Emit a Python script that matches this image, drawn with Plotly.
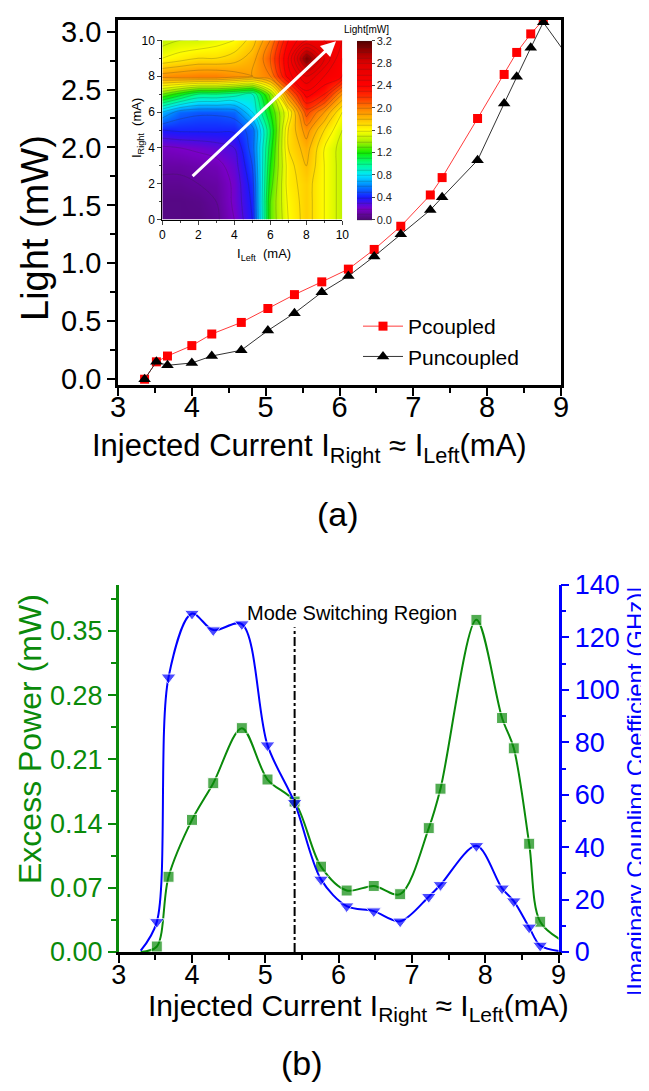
import plotly.graph_objects as go

# ---------------- data: panel (a) ----------------
current_a = [3.36, 3.52, 3.67, 4.00, 4.27, 4.67, 5.03, 5.39, 5.76, 6.12, 6.47,
             6.83, 7.23, 7.39, 7.87, 8.23, 8.40, 8.59, 8.76]
p_coupled = [0.00, 0.15, 0.20, 0.29, 0.39, 0.49, 0.61, 0.73, 0.84, 0.95, 1.12,
             1.32, 1.59, 1.74, 2.25, 2.63, 2.82, 2.98, 3.10]
current_unc = current_a + [9.20]
p_uncoupled = [0.00, 0.15, 0.12, 0.14, 0.20, 0.25, 0.42, 0.57, 0.75, 0.89, 1.06,
               1.25, 1.46, 1.57, 1.89, 2.38, 2.61, 2.86, 3.08, 2.69]

# inset map: Light [mW] vs I_Left (columns) and I_Right (rows)
i_left = [0, 1, 2, 3, 4, 5, 6, 7, 8, 9, 10]
i_right = [0, 1, 2, 3, 4, 5, 6, 7, 8, 9, 10]
light_map = [
    [0.05, 0.05, 0.05, 0.08, 0.20, 0.40, 1.30, 1.60, 1.75, 1.60, 1.45],
    [0.05, 0.05, 0.06, 0.10, 0.22, 0.42, 1.30, 1.62, 1.75, 1.60, 1.45],
    [0.08, 0.08, 0.10, 0.12, 0.22, 0.45, 1.25, 1.65, 1.75, 1.60, 1.45],
    [0.12, 0.12, 0.14, 0.16, 0.25, 0.50, 1.20, 1.65, 1.80, 1.60, 1.45],
    [0.18, 0.20, 0.22, 0.25, 0.30, 0.55, 1.15, 1.70, 1.85, 1.60, 1.45],
    [0.40, 0.42, 0.42, 0.42, 0.42, 0.55, 1.10, 1.70, 1.95, 1.70, 1.50],
    [0.70, 0.55, 0.52, 0.52, 0.55, 0.80, 1.20, 1.60, 2.15, 1.90, 1.60],
    [1.30, 1.15, 1.00, 1.00, 0.95, 0.90, 1.35, 2.00, 2.45, 2.30, 1.90],
    [1.95, 1.98, 2.00, 2.00, 1.95, 1.90, 2.00, 2.45, 2.70, 2.50, 2.40],
    [1.60, 1.65, 1.70, 1.70, 1.75, 1.85, 2.10, 2.50, 3.10, 2.70, 2.40],
    [1.45, 1.50, 1.50, 1.55, 1.60, 1.75, 2.00, 2.40, 2.60, 2.60, 2.50],
]
cbar_ticks = [0.0, 0.4, 0.8, 1.2, 1.6, 2.0, 2.4, 2.8, 3.2]

# ---------------- data: panel (b) ----------------
current_b = [3.30, 3.52, 3.68, 4.00, 4.29, 4.68, 5.03, 5.40, 5.76, 6.11, 6.48,
             6.84, 7.23, 7.39, 7.88, 8.23, 8.39, 8.60, 8.75, 9.10]
excess_power = [0.000, 0.006, 0.082, 0.144, 0.184, 0.244, 0.188, 0.164, 0.093, 0.067, 0.072,
                0.063, 0.135, 0.178, 0.362, 0.255, 0.222, 0.118, 0.033, 0.010]
imag_coupling = [0.5, 11.5, 104.8, 129.1, 122.8, 125.1, 78.9, 56.9, 27.7, 17.5, 15.6,
                 11.7, 21.1, 25.6, 40.5, 24.3, 19.4, 9.4, 2.5, 0.0]
left_ticks = [0.00, 0.07, 0.14, 0.21, 0.28, 0.35]
switch_x = 5.4

W, H = 649, 1091
FONT = "Liberation Sans, Arial, sans-serif"
GREEN = "#0a8a0a"
BLUE = "#0000ff"


def px(x):
    return x / W


def py(y):
    return 1 - y / H


fig = go.Figure()

# panel (a) lines
fig.add_trace(go.Scatter(
    x=current_a, y=p_coupled, name="Pcoupled", mode="lines+markers",
    line=dict(color="#ff3b3b", width=1),
    marker=dict(symbol="square", size=9, color="#ff0000"),
    xaxis="x", yaxis="y", cliponaxis=True))
fig.add_trace(go.Scatter(
    x=current_unc, y=p_uncoupled, name="Puncoupled", mode="lines+markers",
    line=dict(color="#333333", width=1),
    marker=dict(symbol="triangle-up", size=11, color="#000000"),
    xaxis="x", yaxis="y", cliponaxis=True))

# inset contour
colorscale = [
    [0.0, "#4a0a6e"], [0.0625, "#7a00c8"], [0.125, "#1a1aff"], [0.1875, "#0080ff"],
    [0.25, "#00e5ff"], [0.3125, "#00ff90"], [0.375, "#10ee00"], [0.4375, "#a8f000"],
    [0.5, "#ffff00"], [0.5625, "#ffc000"], [0.625, "#ff7f00"], [0.6875, "#ff3000"],
    [0.75, "#ff0000"], [0.875, "#e00000"], [0.9375, "#a00000"], [1.0, "#500000"],
]
fig.add_trace(go.Contour(
    x=i_left, y=i_right, z=light_map, xaxis="x2", yaxis="y2",
    zmin=0, zmax=3.2, colorscale=colorscale,
    contours=dict(start=0, end=3.2, size=0.1, coloring="heatmap"),
    line=dict(width=0.5, color="rgba(40,40,40,0.45)"),
    showlegend=False,
    colorbar=dict(x=px(349.3), xanchor="left", y=py(211.7), yanchor="bottom",
                  len=(211.7 - 32.3) / H, lenmode="fraction", thickness=15,
                  tickvals=cbar_ticks, ticktext=[f"{t:.1f}" for t in cbar_ticks],
                  tickfont=dict(size=11, family=FONT, color="#222"),
                  ticks="outside", ticklen=3, outlinewidth=0, xpad=0, ypad=0)))

# panel (b)
sizes_sq = [0] + [11] * (len(current_b) - 1)
sizes_tri = [0] + [13] * (len(current_b) - 1)
fig.add_trace(go.Scatter(
    x=current_b, y=excess_power, mode="lines+markers", showlegend=False,
    line=dict(color=GREEN, width=2, shape="spline", smoothing=0.9),
    marker=dict(symbol="square", size=sizes_sq, color=GREEN),
    xaxis="x3", yaxis="y3"))
fig.add_trace(go.Scatter(
    x=current_b, y=imag_coupling, mode="lines+markers", showlegend=False,
    line=dict(color=BLUE, width=2, shape="spline", smoothing=0.9),
    marker=dict(symbol="triangle-down", size=sizes_tri, color=BLUE),
    xaxis="x3", yaxis="y4"))

axis_common = dict(showgrid=False, zeroline=False, showline=True, linewidth=2.5,
                   linecolor="black", ticks="outside", tickwidth=2, ticklen=8,
                   tickcolor="black", automargin=False)

fig.update_layout(
    width=W, height=H, margin=dict(l=0, r=0, t=0, b=0, pad=0, autoexpand=False),
    paper_bgcolor="white", plot_bgcolor="white",
    font=dict(family=FONT, color="black"),
    showlegend=True,
    legend=dict(x=px(350), y=py(298), xanchor="left", yanchor="top",
                bgcolor="rgba(0,0,0,0)", font=dict(size=21, family=FONT),
                tracegroupgap=0, itemwidth=40),
    xaxis=dict(domain=[px(110), px(553)], anchor="y", range=[3, 9], dtick=1,
               mirror=True, tickfont=dict(size=29), ticklabelstandoff=-14,
               minor=dict(dtick=0.5, ticks="outside", ticklen=5, tickwidth=2, tickcolor="black"),
               **axis_common),
    yaxis=dict(domain=[py(377), py(12)], anchor="x", range=[-0.05, 3.1], dtick=0.5,
               tickformat=".1f", mirror=True, tickfont=dict(size=29),
               minor=dict(dtick=0.25, ticks="outside", ticklen=5, tickwidth=2, tickcolor="black"),
               **axis_common),
    xaxis2=dict(domain=[px(154.3), px(334.3)], anchor="y2", range=[0, 10], dtick=2,
                showgrid=False, zeroline=False, showline=True, linewidth=1, linecolor="black",
                ticks="outside", ticklen=4, tickfont=dict(size=12), automargin=False,
                minor=dict(dtick=1, ticks="outside", ticklen=2)),
    yaxis2=dict(domain=[py(211.7), py(32.3)], anchor="x2", range=[0, 10], dtick=2,
                showgrid=False, zeroline=False, showline=True, linewidth=1, linecolor="black",
                ticks="outside", ticklen=4, tickfont=dict(size=12), automargin=False,
                minor=dict(dtick=1, ticks="outside", ticklen=2)),
    xaxis3=dict(domain=[px(110.7), px(550.5)], anchor="y3", range=[3, 9], dtick=1,
                tickfont=dict(size=27), ticklabelstandoff=-11,
                minor=dict(dtick=0.5, ticks="outside", ticklen=5, tickwidth=2, tickcolor="black"),
                **axis_common),
    xaxis4=dict(overlaying="x3", side="top", anchor="y3", range=[3, 9], dtick=1,
                showgrid=False, zeroline=False, showline=True, linewidth=2.5, linecolor="black",
                ticks="inside", ticklen=7, tickwidth=2, tickcolor="black",
                showticklabels=False, automargin=False,
                minor=dict(dtick=0.5, ticks="inside", ticklen=5, tickwidth=2, tickcolor="black")),
    yaxis3=dict(domain=[py(944), py(577)], anchor="x3", range=[0, 0.40],
                tickvals=left_ticks, ticktext=[f"{t:.2f}" for t in left_ticks],
                tickfont=dict(size=27, color=GREEN), automargin=False,
                showgrid=False, zeroline=False, showline=True, linewidth=2.5,
                linecolor=GREEN, ticks="outside", tickwidth=2, ticklen=8, tickcolor=GREEN,
                minor=dict(dtick=0.035, tick0=0, ticks="outside", ticklen=5, tickwidth=2,
                           tickcolor=GREEN)),
    yaxis4=dict(overlaying="y3", side="right", anchor="x3", range=[0, 140], dtick=20,
                tickfont=dict(size=27, color=BLUE), automargin=False,
                showgrid=False, zeroline=False, showline=True, linewidth=2.5,
                linecolor=BLUE, ticks="outside", tickwidth=2, ticklen=8, tickcolor=BLUE,
                minor=dict(dtick=10, ticks="outside", ticklen=5, tickwidth=2, tickcolor=BLUE)),
)

fig.add_shape(type="line", xref="x3", yref="y3", x0=switch_x, x1=switch_x, y0=0, y1=0.354,
              line=dict(color="black", width=2, dash="dashdot"))

annotations = [
    dict(text="Mode Switching Region", xref="x3", yref="y3", x=6.18, y=0.370,
         font=dict(size=20)),
    dict(text="Light (mW)", x=px(27), y=py(220), textangle=-90, font=dict(size=38)),
    dict(text="Injected Current I<sub>Right</sub> \u2248 I<sub>Left</sub>(mA)",
         x=px(301), y=py(440), font=dict(size=31)),
    dict(text="(a)", x=px(330), y=py(506), font=dict(size=34)),
    dict(text="Excess Power (mW)", x=px(22), y=py(731), textangle=-90,
         font=dict(size=32, color=GREEN)),
    dict(text="|Imaginary Coupling Coefficient (GHz)|", x=px(627), y=py(783), textangle=-90,
         font=dict(size=24, color=BLUE)),
    dict(text="Injected Current I<sub>Right</sub> \u2248 I<sub>Left</sub>(mA)",
         x=px(350), y=py(999), font=dict(size=30)),
    dict(text="(b)", x=px(294), y=py(1055), font=dict(size=34)),
    dict(text="I<sub>Left</sub>  (mA)", x=px(256), y=py(246), font=dict(size=13)),
    dict(text="I<sub>Right</sub>  (mA)", x=px(129), y=py(120), textangle=-90,
         font=dict(size=13)),
    dict(text="Light[mW]", x=px(358), y=py(21), font=dict(size=10)),
]
for a in annotations:
    a.setdefault("xref", "paper")
    a.setdefault("yref", "paper")
    a.setdefault("showarrow", False)
    a.setdefault("xanchor", "center")
    a.setdefault("yanchor", "middle")
    fig.add_annotation(**a)

# white arrow in inset
fig.add_annotation(x=9.65, y=9.95, ax=1.6, ay=2.35, xref="x2", yref="y2",
                   axref="x2", ayref="y2", showarrow=True, arrowhead=2, arrowsize=1,
                   arrowwidth=3, arrowcolor="white", text="")

fig.write_html("out.html")
